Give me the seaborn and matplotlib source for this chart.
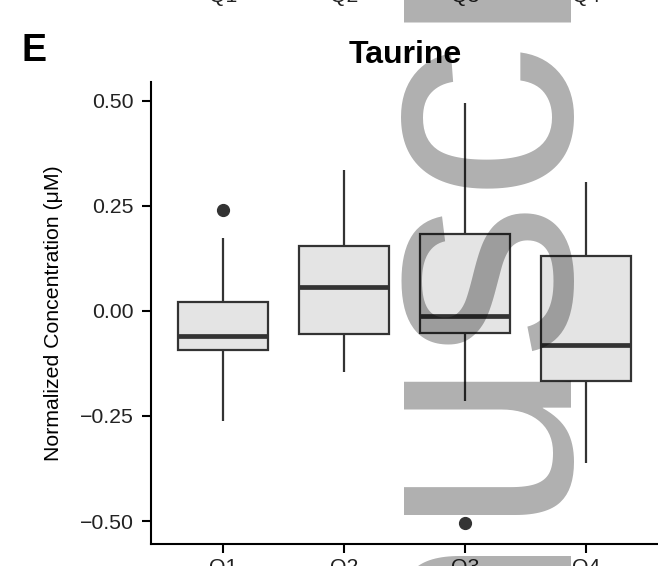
import numpy as np
import pandas as pd
import matplotlib
matplotlib.use("Agg")
import matplotlib.pyplot as plt
import seaborn as sns

# ---- data ----
quartiles = ["Q1", "Q2", "Q3", "Q4"]
whisker_low = [-0.261, -0.146, -0.214, -0.362]
box_low = [-0.094, -0.055, -0.053, -0.166]
median = [-0.059, 0.058, -0.011, -0.081]
box_high = [0.021, 0.154, 0.182, 0.131]
whisker_high = [0.173, 0.335, 0.495, 0.307]
outlier_group = ["Q1", "Q3"]
outlier_value = [0.240, -0.504]

# Build a table whose box statistics reproduce the values above
rows = []
for i, q in enumerate(quartiles):
    for v in [whisker_low[i], box_low[i], median[i], box_high[i], whisker_high[i]] * 4:
        rows.append((q, v))
for q, v in zip(outlier_group, outlier_value):
    rows.append((q, v))
df = pd.DataFrame(rows, columns=["quartile", "value"])

sns.set_theme(style="white")
plt.rcParams["font.family"] = ["Liberation Sans", "DejaVu Sans"]

W, H = 658, 566
fig = plt.figure(figsize=(W / 100, H / 100), dpi=100)
ax_left, ax_right, ax_top, ax_bottom = 150.5, 658.6, 82.0, 543.7
ax = fig.add_axes([ax_left / W, 1 - ax_bottom / H, (ax_right - ax_left) / W, (ax_bottom - ax_top) / H])

dark = "#333333"
sns.boxplot(
    data=df, x="quartile", y="value", order=quartiles, ax=ax,
    color="#e4e4e4", saturation=1, width=0.75, linecolor=dark, linewidth=1.6,
    fliersize=8.5, showcaps=False,
    medianprops=dict(linewidth=3.4, color=dark),
    whiskerprops=dict(linewidth=1.6, color=dark),
    flierprops=dict(marker="o", markerfacecolor=dark, markeredgecolor=dark),
)

ax.set_xlim(-0.6, 3.6)
ax.set_ylim(-0.554, 0.545)
yt = [-0.5, -0.25, 0.0, 0.25, 0.5]
ax.set_yticks(yt)
ax.set_yticklabels([f"{v:.2f}".replace("-", "\u2212") for v in yt])
sns.despine(ax=ax)
for s in ["left", "bottom"]:
    ax.spines[s].set_linewidth(1.5)
    ax.spines[s].set_color("black")
ax.tick_params(axis="both", length=6.5, width=1.5, color="black",
               labelsize=15.3, labelcolor="#222222", left=True, bottom=True)
ax.tick_params(axis="y", pad=5.5)
ax.tick_params(axis="x", pad=4)
ax.set_xlabel("")
ax.set_ylabel("Normalized Concentration (\u03bcM)", fontsize=15.3, color="black", labelpad=12)

fig.text(405 / W, 1 - 62.7 / H, "Taurine", ha="center", va="baseline",
         fontsize=23, fontweight="bold", color="black")
fig.text(21 / W, 1 - 60.7 / H, "E", ha="left", va="baseline",
         fontsize=27, fontweight="bold", color="black")

# bottoms of the tick labels of the panel above, cut by the page crop
for i, q in enumerate(quartiles):
    xpix = ax_left + (i + 0.6) / 4.2 * (ax_right - ax_left)
    fig.text(xpix / W, 1 - 1.5 / H, q, ha="center", va="baseline",
             fontsize=15.3, color="#222222")

# watermark of the source page
fig.text(546 / W, 1 - 1123 / H, "Manuscript", rotation=90, rotation_mode="anchor",
         ha="left", va="baseline", fontsize=227.5, color="black", alpha=0.314, zorder=10)

fig.savefig("out.png", dpi=100)
